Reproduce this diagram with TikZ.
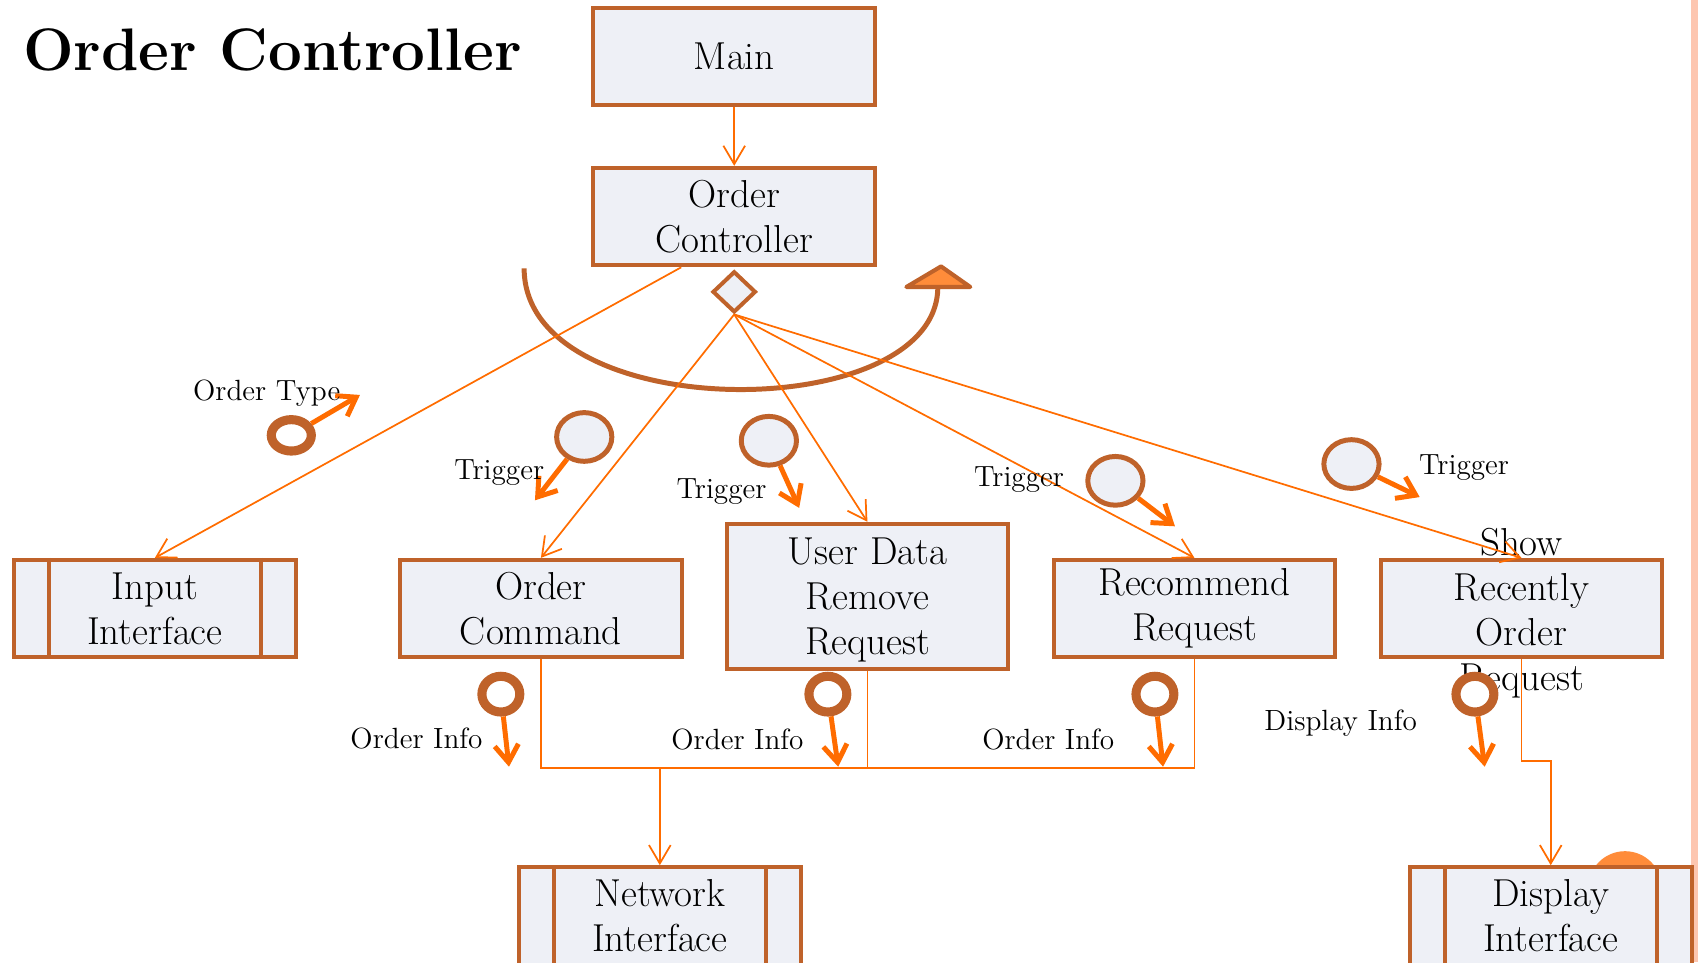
\documentclass[tikz,border=0pt]{standalone}
\usepackage{fontspec}
\usetikzlibrary{shapes.geometric,arrows.meta,calc}
\definecolor{brn}{RGB}{191,98,42}
\definecolor{org}{RGB}{255,108,0}
\definecolor{boxfill}{RGB}{238,240,246}
\definecolor{trifill}{RGB}{255,140,58}
\definecolor{pinkbar}{RGB}{253,198,176}
\tikzset{
  procbox/.style={draw=brn, line width=1.85pt, fill=boxfill, minimum width=130pt,
    minimum height=45pt, inner sep=0pt, align=center,
    font=\fontsize{18}{20.8}\selectfont},
  boxtext/.style={inner sep=0pt, align=center, font=\fontsize{18}{20.8}\selectfont},
  orgline/.style={draw=org, line width=0.8pt},
  conn/.style={orgline, -{Straight Barb[length=8.5pt,width=10pt]}},
  couple/.style={draw=org, line width=2.3pt, -{Straight Barb[length=8pt,width=11pt]}},
  datac/.style={ellipse, draw=brn, line width=2.3pt, fill=boxfill, minimum width=25.5pt,
    minimum height=22.5pt, inner sep=0pt},
  flagc/.style={ellipse, draw=brn, line width=4.2pt, fill=white, minimum width=17.5pt,
    minimum height=16.5pt, inner sep=0pt},
  lbl/.style={font=\fontsize{13.5}{16}\selectfont, anchor=base, inner sep=0pt},
}
\begin{document}
\begin{tikzpicture}[x=0.5pt,y=-0.5pt]
\useasboundingbox (0,0) rectangle (1568,888.35);
% right decorative bar
\fill[pinkbar] (1561.5,0) rectangle (1568,888.35);
% orange disc behind display interface
\fill[trifill] (1500.6,820) circle[radius=17pt];

% title
\node[anchor=base west, inner sep=0pt, font=\fontsize{27.7}{30}\selectfont\bfseries] (title) at (21,65.3) {Order Controller};

% iteration arc
\draw[brn, line width=2.3pt] (484,247.8) .. controls (484,394) and (866,394) .. (866,265);
\filldraw[draw=brn, fill=trifill, line width=1.9pt, line join=round] (837,265) -- (896,265) -- (869,246) -- cycle;

% boxes
\node[procbox] (main) at (678,52) {Main};
\node[procbox] (oc) at (678,200) {Order\\Controller};
\node[diamond, draw=brn, fill=boxfill, line width=1.85pt, minimum width=20pt, minimum height=19pt, inner sep=0pt] (dia) at (678,269.5) {};
\node[procbox] (inp) at (143,562) {Input\\Interface};
\node[procbox] (cmd) at (499.5,562) {Order\\Command};
\node[procbox, minimum height=67pt] (ud) at (801,550.7) {};
\node[boxtext] (udtxt) at ($(ud.center)+(0,3)$) {User Data\\Remove\\Request};
\node[procbox] (rec) at (1103,562) {Recommend\\Request};
\node[procbox] (show) at (1405,562) {};
\node[boxtext] (showtxt) at ($(show.center)+(0,4)$) {Show\\Recently\\Order\\Request};
\node[procbox] (net) at (609.3,845.8) {Network\\Interface};
\node[procbox] (disp) at (1432,845.8) {Display\\Interface};

% predefined-process side bars
\foreach \n in {inp,net,disp}{
  \draw[brn, line width=1.85pt] ($(\n.north)+(-97.7,0)$) -- ($(\n.south)+(-97.7,0)$);
  \draw[brn, line width=1.85pt] ($(\n.north)+(97.7,0)$) -- ($(\n.south)+(97.7,0)$);
}

% connectors
\draw[conn] (main) -- (oc);
\draw[conn] ($(oc.south)+(-49,0)$) -- (inp.north);
\draw[conn] (dia.south) -- (cmd.north);
\draw[conn] (dia.south) -- (ud.north);
\draw[conn] (dia.south) -- (rec.north);
\draw[conn] (dia.south) -- (show.north);
\coordinate (busy) at (0,709);
\draw[orgline] (cmd.south) -- (cmd.south |- busy) -- (rec.south |- busy) -- (rec.south);
\draw[orgline] (ud.south) -- (ud.south |- busy);
\draw[conn] (net.north |- busy) -- (net.north);
\coordinate (sdbend) at (0,703);
\draw[conn] (show.south) -- (show.south |- sdbend) -- (disp.north |- sdbend) -- (disp.north);

% couples: Order Type
\node[flagc, minimum width=18.5pt, minimum height=14.5pt] (ot) at (269,402) {};
\coordinate (ottip) at (332.4,364.7);
\draw[couple] (ot) -- (ottip);
\node[lbl] (otl) at (246.3,370) {Order Type};

% Triggers
\node[datac] (t1) at (539.5,403.5) {};
\coordinate (t1tip) at (494,462);
\draw[couple] (t1) -- (t1tip);
\node[lbl] (t1l) at (461,443) {Trigger};

\node[datac] (t2) at (710,407) {};
\coordinate (t2tip) at (738,469);
\draw[couple] (t2) -- (t2tip);
\node[lbl] (t2l) at (666.3,460) {Trigger};

\node[datac] (t3) at (1030,444) {};
\coordinate (t3tip) at (1085,486);
\draw[couple] (t3) -- (t3tip);
\node[lbl] (t3l) at (941,449.5) {Trigger};

\node[datac] (t4) at (1248,428.5) {};
\coordinate (t4tip) at (1311,459);
\draw[couple] (t4) -- (t4tip);
\node[lbl] (t4l) at (1352,438.5) {Trigger};

% Order Info / Display Info
\node[flagc] (o1) at (462.5,641) {};
\coordinate (o1tip) at (470,708);
\draw[couple] (o1) -- (o1tip);
\node[lbl] (o1l) at (384.6,691) {Order Info};

\node[flagc] (o2) at (764.5,641) {};
\coordinate (o2tip) at (774,708);
\draw[couple] (o2) -- (o2tip);
\node[lbl] (o2l) at (681,692) {Order Info};

\node[flagc] (o3) at (1066.5,641) {};
\coordinate (o3tip) at (1074,708);
\draw[couple] (o3) -- (o3tip);
\node[lbl] (o3l) at (968,692) {Order Info};

\node[flagc] (di) at (1362,641) {};
\coordinate (ditip) at (1371,708);
\draw[couple] (di) -- (ditip);
\node[lbl] (dil) at (1238,674.7) {Display Info};
\end{tikzpicture}
\end{document}
